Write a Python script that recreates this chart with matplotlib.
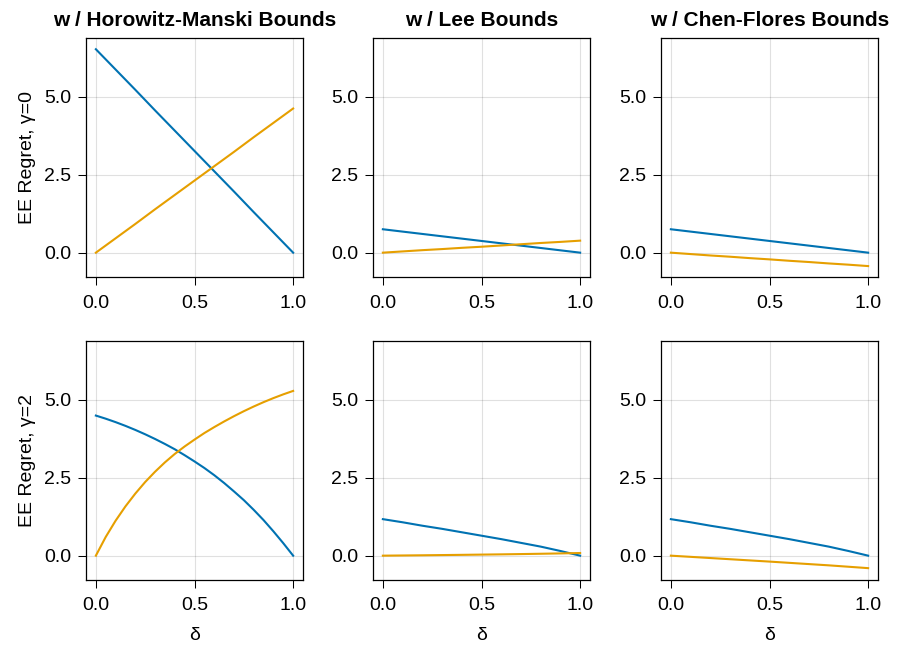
import numpy as np
import matplotlib.pyplot as plt

# ── Data ──────────────────────────────────────────────────────────────────────
delta = [0.0, 0.1, 0.2, 0.3, 0.4, 0.5, 0.6, 0.7, 0.8, 0.9, 1.0]
delta_fine = [0.0, 0.05, 0.1, 0.15, 0.2, 0.25, 0.3, 0.35, 0.4, 0.45, 0.5,
              0.55, 0.6, 0.65, 0.7, 0.75, 0.8, 0.85, 0.9, 0.95, 1.0]

# gamma = 0
hm_blue_g0 = [6.52, 5.87, 5.22, 4.56, 3.91, 3.26, 2.61, 1.96, 1.30, 0.65, 0.0]
hm_orng_g0 = [0.0, 0.46, 0.92, 1.39, 1.85, 2.31, 2.77, 3.23, 3.70, 4.16, 4.62]
lee_blue_g0 = [0.75, 0.675, 0.60, 0.525, 0.45, 0.375, 0.30, 0.225, 0.15, 0.075, 0.0]
lee_orng_g0 = [0.0, 0.04, 0.08, 0.115, 0.155, 0.19, 0.23, 0.27, 0.31, 0.345, 0.385]
cf_blue_g0 = [0.75, 0.675, 0.60, 0.525, 0.45, 0.375, 0.30, 0.225, 0.15, 0.075, 0.0]
cf_orng_g0 = [0.0, -0.045, -0.09, -0.13, -0.175, -0.215, -0.26, -0.30, -0.345, -0.385, -0.43]

# gamma = 2 (Horowitz-Manski curves read on the finer grid)
hm_blue_g2 = [4.49, 4.39, 4.28, 4.16, 4.03, 3.89, 3.74, 3.58, 3.41, 3.22, 3.02,
              2.81, 2.58, 2.33, 2.06, 1.78, 1.47, 1.14, 0.78, 0.40, 0.0]
hm_orng_g2 = [0.0, 0.60, 1.12, 1.58, 1.99, 2.36, 2.69, 2.99, 3.26, 3.50, 3.72,
              3.93, 4.12, 4.30, 4.47, 4.63, 4.78, 4.92, 5.05, 5.17, 5.28]
lee_blue_g2 = [1.17, 1.07, 0.96, 0.86, 0.75, 0.64, 0.53, 0.41, 0.29, 0.15, 0.0]
lee_orng_g2 = [0.0, 0.006, 0.012, 0.019, 0.026, 0.034, 0.042, 0.051, 0.061, 0.072, 0.085]
cf_blue_g2 = [1.17, 1.07, 0.96, 0.86, 0.75, 0.64, 0.53, 0.41, 0.29, 0.15, 0.0]
cf_orng_g2 = [0.0, -0.038, -0.076, -0.114, -0.152, -0.19, -0.23, -0.27, -0.31, -0.355, -0.40]

TITLES = ["w / Horowitz-Manski Bounds", "w / Lee Bounds", "w / Chen-Flores Bounds"]
YLABELS = ["EE Regret, γ=0", "EE Regret, γ=2"]
PANELS = [
    [(delta, hm_blue_g0, hm_orng_g0), (delta, lee_blue_g0, lee_orng_g0),
     (delta, cf_blue_g0, cf_orng_g0)],
    [(delta_fine, hm_blue_g2, hm_orng_g2), (delta, lee_blue_g2, lee_orng_g2),
     (delta, cf_blue_g2, cf_orng_g2)],
]

BLUE = "#0072B2"
ORANGE = "#E69F00"

plt.rcParams["font.family"] = ["Liberation Sans", "DejaVu Sans"]

W, H = 897, 651
fig = plt.figure(figsize=(W / 100, H / 100), dpi=100)

lefts = [86, 373, 661]
tops = [38, 341]
aw, ah = 217, 239

for r in range(2):
    for c in range(3):
        ax = fig.add_axes([lefts[c] / W, 1 - (tops[r] + ah) / H, aw / W, ah / H])
        x, blue, orng = PANELS[r][c]
        ax.plot(x, blue, color=BLUE, lw=1.5, zorder=3)
        ax.plot(x, orng, color=ORANGE, lw=1.5, zorder=3)

        ax.set_xlim(-0.05, 1.05)
        ax.set_ylim(-0.78, 6.88)
        ax.set_xticks([0.0, 0.5, 1.0], ["0.0", "0.5", "1.0"])
        ax.set_yticks([0.0, 2.5, 5.0], ["0.0", "2.5", "5.0"])
        ax.grid(True, color="black", alpha=0.12, lw=0.8)
        ax.set_axisbelow(True)
        ax.tick_params(direction="out", length=5.6, width=0.75, labelsize=14)
        ax.tick_params(axis="x", pad=7)
        ax.tick_params(axis="y", pad=5)
        for s in ax.spines.values():
            s.set_linewidth(0.9)

        if r == 0:
            ax.set_title(TITLES[c], fontsize=15, fontweight="bold", pad=9)
        if c == 0:
            ax.set_ylabel(YLABELS[r], fontsize=14, labelpad=6)
        if r == 1:
            ax.set_xlabel("δ", fontsize=14, labelpad=9)

fig.savefig("out.png", dpi=100)
